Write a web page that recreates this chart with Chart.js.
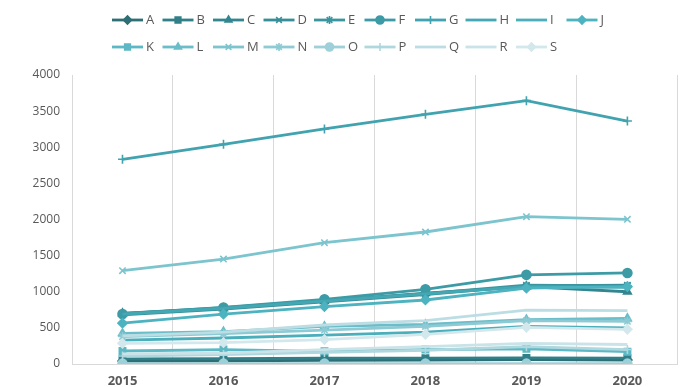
<!DOCTYPE html>
<html>
<head>
<meta charset="utf-8">
<script src="https://cdn.jsdelivr.net/npm/chart.js@4/dist/chart.umd.min.js"></script>
<style>
html,body{margin:0;padding:0;background:#fff;}
#wrap{width:684px;height:387px;position:relative;}
</style>
</head>
<body>
<div id="wrap"><canvas id="c" width="684" height="387"></canvas></div>
<script>
const years = ["2015","2016","2017","2018","2019","2020"];
const seriesNames = ["A","B","C","D","E","F","G","H","I","J","K","L","M","N","O","P","Q","R","S"];
const A = [40, 45, 50, 55, 60, 55];
const B = [70, 75, 80, 80, 85, 80];
const C = [700, 770, 870, 980, 1070, 1000];
const D = [680, 760, 860, 960, 1080, 1090];
const E = [700, 780, 880, 975, 1090, 1080];
const F = [692, 782, 895, 1034, 1234, 1260];
const G = [2833, 3040, 3253, 3456, 3645, 3363];
const H = [690, 770, 870, 970, 1070, 1060];
const I = [330, 360, 400, 440, 520, 500];
const J = [565, 690, 795, 886, 1050, 1070];
const K = [180, 200, 175, 200, 210, 170];
const L = [425, 448, 520, 549, 615, 632];
const M = [1292, 1453, 1679, 1827, 2039, 2003];
const N = [380, 420, 470, 520, 600, 590];
const O = [5, 5, 5, 5, 5, 5];
const P = [110, 130, 160, 190, 240, 200];
const Q = [390, 440, 540, 600, 747, 738];
const R = [140, 150, 200, 240, 286, 270];
const S = [287, 296, 338, 411, 508, 480];
const seriesValues = [A,B,C,D,E,F,G,H,I,J,K,L,M,N,O,P,Q,R,S];
const yTicks = [0,500,1000,1500,2000,2500,3000,3500,4000];

const colors = ["#2e6e75","#317f88","#33868f","#378e98","#3a959f","#3d9ba6","#41a3af","#44a8b4","#4aaebb","#4db3c0",
                "#5cb8c4","#6abdc9","#7cc4ce","#8dcad4","#9dd0d9","#aed7de","#bddde4","#c9e3e8","#d3e8ec"];
const markers = ["rectRot","rect","triangle","crossRot","star","circle","cross",false,false,"rectRot",
                 "rect","triangle","crossRot","star","circle","cross",false,false,"rectRot"];

const datasets = seriesNames.map((n,i)=>({
  label:n,
  data:seriesValues[i],
  borderColor:colors[i],
  backgroundColor:colors[i],
  pointBackgroundColor:colors[i],
  pointBorderColor:colors[i],
  borderWidth:2.8,
  pointStyle:markers[i]||'circle',
  pointRadius:markers[i]?4.5:0,
  pointBorderWidth:1.6,
  order:seriesNames.length-i,
  tension:0
}));

function drawMarker(ctx, style, x, y, r, color){
  ctx.save();
  ctx.fillStyle=color; ctx.strokeStyle=color; ctx.lineWidth=1.6;
  if (Chart.helpers && Chart.helpers.drawPoint){
    Chart.helpers.drawPoint(ctx,{pointStyle:style,radius:r,borderWidth:1.6,rotation:0},x,y);
  }
  ctx.restore();
}

const legendPlugin = {
  id:'customLegend',
  afterDraw(chart){
    const ctx = chart.ctx;
    ctx.save();
    ctx.font = '13px "Open Sans"';
    ctx.textBaseline = 'middle';
    ctx.textAlign = 'left';
    chart.data.datasets.forEach((ds,i)=>{
      const row = i<10?0:1;
      const col = i<10?i:i-10;
      const x0 = 112 + col*50.5;
      const y = row===0?20:47;
      ctx.strokeStyle = ds.borderColor;
      ctx.lineWidth = 2.8;
      ctx.beginPath(); ctx.moveTo(x0,y); ctx.lineTo(x0+31,y); ctx.stroke();
      if (markers[i]) drawMarker(ctx, markers[i], x0+15.5, y, 4, ds.borderColor);
      ctx.fillStyle = '#595959';
      ctx.fillText(ds.label, x0+34, y+0.5);
    });
    ctx.restore();
  }
};

new Chart(document.getElementById('c'),{
  type:'line',
  data:{labels:years,datasets},
  plugins:[legendPlugin],
  options:{
    responsive:false,
    animation:false,
    devicePixelRatio:1,
    layout:{padding:{top:75,right:-2,left:0,bottom:0}},
    plugins:{legend:{display:false},tooltip:{enabled:false}},
    scales:{
      x:{
        offset:true,
        grid:{offset:true,color:'#d9d9d9',lineWidth:1,drawTicks:false},
        border:{color:'#d9d9d9',width:1},
        ticks:{color:'#595959',font:{family:'"Open Sans"',size:13,weight:'bold'},padding:9},
        afterFit(s){s.height=23;}
      },
      y:{
        min:0,max:4000,
        afterBuildTicks(s){s.ticks=yTicks.map(v=>({value:v}));},
        grid:{display:false,drawTicks:false},
        border:{color:'#d9d9d9',width:1},
        ticks:{color:'#595959',font:{family:'"Open Sans"',size:12},padding:12,callback:(v)=>String(v)},
        afterFit(s){s.width=72;}
      }
    }
  }
});
</script>
</body>
</html>
